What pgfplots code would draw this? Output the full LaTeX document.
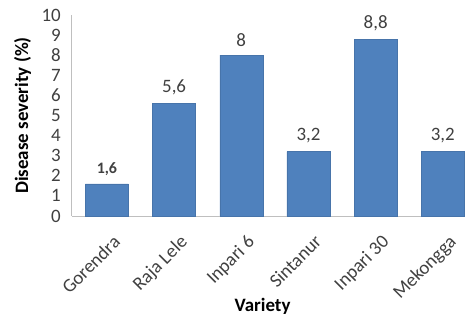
\documentclass[border=0pt]{standalone}
\usepackage{pgfplots}
\pgfplotsset{compat=1.18}
\usepackage{fontspec}
\setmainfont{Carlito}
\definecolor{barblue}{HTML}{4F81BD}
\definecolor{axgray}{HTML}{BFBFBF}
\definecolor{txt}{HTML}{404040}
\begin{document}
\begin{tikzpicture}
\begin{axis}[
  /pgf/number format/assume math mode=true,
  scale only axis,
  width=393bp, height=201bp,
  xmin=-0.52, xmax=5.33,
  ymin=0, ymax=10,
  ytick={0,1,...,10},
  xtick={0,1,2,3,4,5},
  xticklabels={Gorendra,Raja Lele,Inpari 6,Sintanur,Inpari 30,Mekongga},
  x tick label style={rotate=45, anchor=north east, font=\fontsize{19}{20}\selectfont, text=txt, inner sep=1bp, xshift=-8bp, yshift=-15bp},
  y tick label style={font=\fontsize{19}{20}\selectfont, text=txt, inner sep=2bp, xshift=-9bp},
  major tick length=0pt,
  axis x line*=bottom,
  axis y line*=left,
  axis line style={axgray, line width=1bp},
  x axis line style={-}, y axis line style={-},
  ylabel={\textbf{Disease severity (\%)}},
  xlabel={\textbf{Variety}},
  label style={font=\fontsize{19}{20}\selectfont, text=black},
  ylabel style={yshift=5bp},
  xlabel style={at={(axis description cs:0.485,0)}, anchor=north, yshift=-79bp},
  clip=false,
]
\addplot[ybar, bar width=43bp, fill=barblue, draw=barblue!90!black, line width=0.4bp,
  nodes near coords, point meta=explicit symbolic,
  every node near coord/.append style={font=\fontsize{19}{20}\selectfont, text=txt, anchor=south, yshift=5bp}]
  coordinates {(0,1.6) [\textbf{\fontsize{16}{18}\selectfont 1,6}] (1,5.6) [5,6] (2,8) [8] (3,3.2) [3,2] (4,8.8) [8,8] (5,3.2) [3,2]};
\coordinate (ll) at (rel axis cs:0,0);
\coordinate (ur) at (rel axis cs:1,1);
\end{axis}
\pgfresetboundingbox
\path[use as bounding box] ([shift={(-72bp,-104bp)}]ll) rectangle ([shift={(0bp,15bp)}]ur);
\end{tikzpicture}
\end{document}
